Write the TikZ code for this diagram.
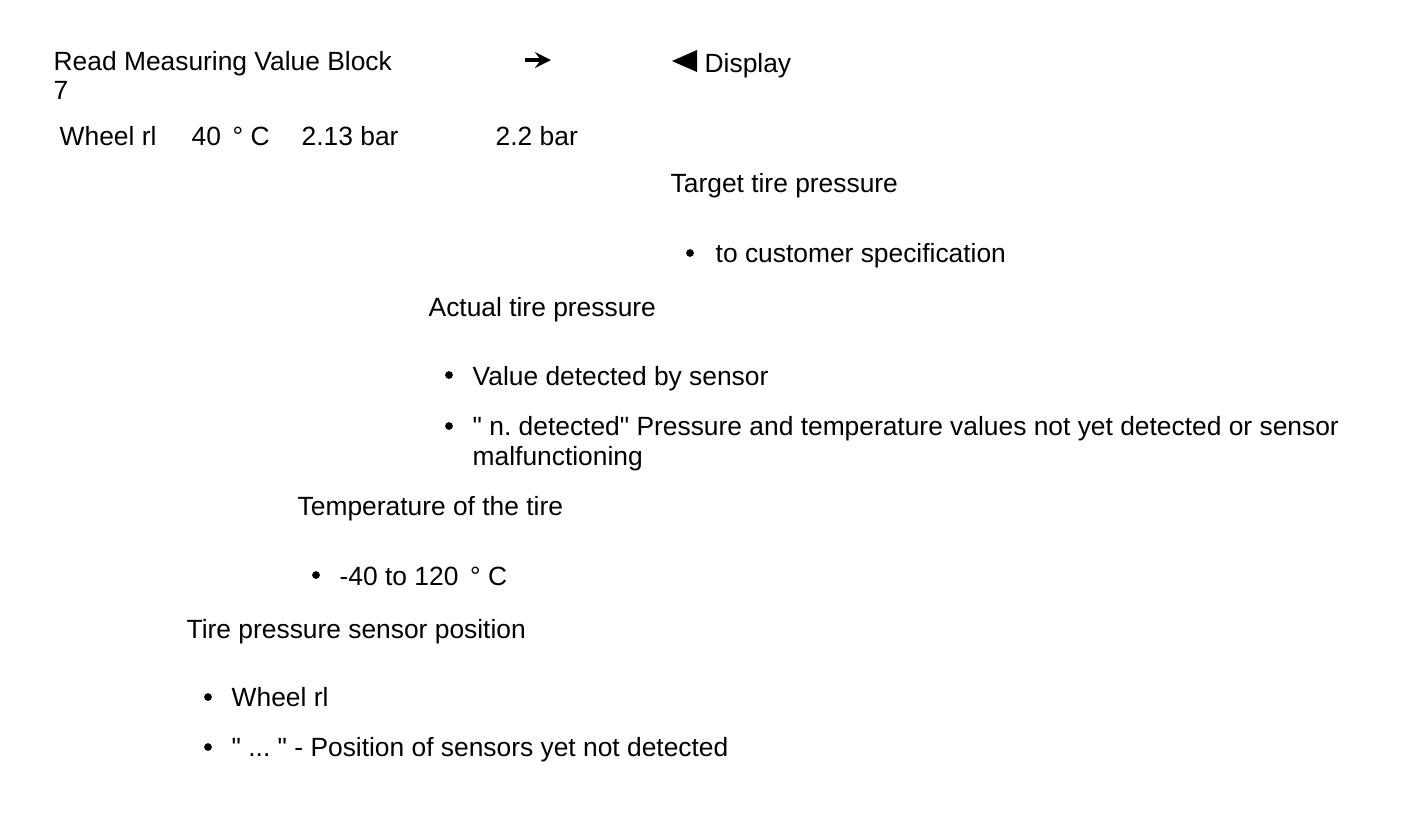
\documentclass[tikz,border=0pt]{standalone}
\usepackage{fontspec}
\setmainfont{Liberation Sans}
\frenchspacing
\begin{document}
\begin{tikzpicture}[x=0.01cm, y=-0.01cm,
  txt/.style={anchor=base west, inner sep=0pt, font=\fontsize{7.5}{9}\selectfont},
  blt/.style={fill=black}
]
\useasboundingbox (0,0) rectangle (1408,838);

\node[txt] (head) at (53,70)   {Read Measuring Value Block};
\node[txt] (blk)  at (53,99)   {7};
\coordinate (arrA) at (525,60);
\coordinate (arrB) at (551,60);
\draw[line width=1pt, -stealth] (arrA) -- (arrB);
\fill (672,61) -- (697,50) -- (697,72) -- cycle;
\node[txt] (disp) at (704,72)  {Display};

\node[txt] (whl)  at (59,145)  {Wheel rl};
\node[txt] (temp) at (191,145) {40 \,° C};
\node[txt] (act)  at (301,145) {2.13 bar};
\node[txt] (tgt)  at (495,145) {2.2 bar};

\node[txt] (tgtH) at (670,192) {Target tire pressure};
\fill[blt] (690,253) circle (1.1pt);
\node[txt] (tgtA) at (715,262) {to customer specification};

\node[txt] (actH) at (428,316) {Actual tire pressure};
\fill[blt] (449,375) circle (1.1pt);
\node[txt] (actA) at (472,385) {Value detected by sensor};
\fill[blt] (449,426) circle (1.1pt);
\node[txt] (actB) at (472,435) {\textquotedbl{} n. detected\textquotedbl{} Pressure and temperature values not yet detected or sensor};
\node[txt] (actC) at (472,465) {malfunctioning};

\node[txt] (tmpH) at (297,515) {Temperature of the tire};
\fill[blt] (316,575) circle (1.1pt);
\node[txt] (tmpA) at (339,585) {-40 to 120 \,° C};

\node[txt] (posH) at (186,638) {Tire pressure sensor position};
\fill[blt] (208,697) circle (1.1pt);
\node[txt] (posA) at (231,706) {Wheel rl};
\fill[blt] (208,747) circle (1.1pt);
\node[txt] (posB) at (231,756) {\textquotedbl{} ... \textquotedbl{} - Position of sensors yet not detected};
\end{tikzpicture}
\end{document}
